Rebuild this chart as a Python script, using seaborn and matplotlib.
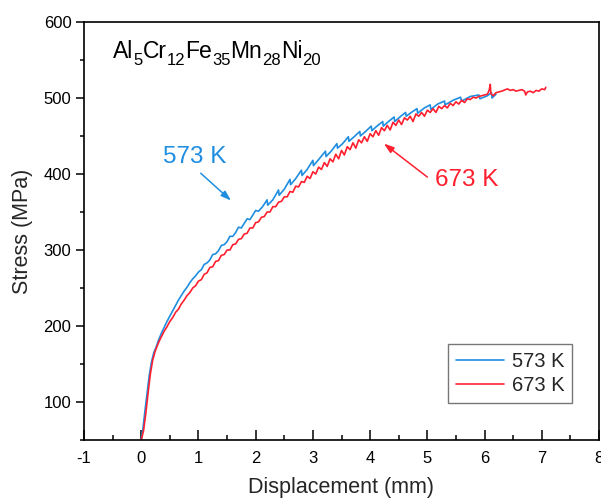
import numpy as np
import pandas as pd
import matplotlib
matplotlib.use("Agg")
import matplotlib.pyplot as plt
from matplotlib.ticker import MultipleLocator
from matplotlib.transforms import IdentityTransform
import seaborn as sns

# ---- data ----
x_573 = [0.00, 0.03, 0.06, 0.10, 0.14, 0.18, 0.22, 0.26, 0.30, 0.35, 0.40, 0.45, 0.50, 0.55,
         0.60, 0.65, 0.70, 0.75, 0.80, 0.85, 0.90, 0.95, 1.00, 1.05, 1.10, 1.15, 1.20, 1.25,
         1.30, 1.35, 1.40, 1.45, 1.50, 1.55, 1.60, 1.65, 1.70, 1.75, 1.80, 1.85, 1.90, 1.95,
         2.00, 2.05, 2.12, 2.20, 2.21, 2.30, 2.40, 2.41, 2.50, 2.60, 2.61, 2.70, 2.80, 2.81,
         2.90, 3.00, 3.01, 3.10, 3.22, 3.23, 3.32, 3.42, 3.43, 3.52, 3.62, 3.63, 3.72, 3.82,
         3.83, 3.92, 4.02, 4.03, 4.12, 4.22, 4.23, 4.32, 4.42, 4.43, 4.52, 4.62, 4.63, 4.72,
         4.82, 4.83, 4.95, 5.05, 5.06, 5.18, 5.30, 5.31, 5.45, 5.58, 5.60, 5.75, 5.90, 5.92,
         6.05, 6.12, 6.13, 6.20]
y_573 = [50, 65, 85, 110, 135, 153, 165, 172, 181, 190, 198, 206, 213, 220,
         227, 234, 240, 246, 251, 257, 262, 266, 271, 274, 281, 283, 287, 294,
         295, 299, 306, 307, 311, 318, 318, 323, 330, 329, 335, 341, 340, 346,
         352, 351, 357, 366, 359, 366, 379, 372, 380, 393, 386, 394, 405, 398,
         406, 418, 411, 419, 430, 423, 430, 440, 434, 440, 449, 443, 449, 456,
         450, 456, 463, 457, 463, 469, 463, 469, 475, 469, 475, 481, 476, 481,
         486, 480, 487, 491, 485, 492, 496, 491, 497, 501, 496, 502, 504, 499,
         503, 507, 500, 505]

x_673 = [0.00, 0.04, 0.08, 0.12, 0.16, 0.20, 0.24, 0.28, 0.32, 0.36, 0.40, 0.45, 0.50, 0.55,
         0.60, 0.65, 0.70, 0.75, 0.80, 0.85, 0.90, 0.95, 1.00, 1.05, 1.10, 1.15, 1.20, 1.25,
         1.30, 1.35, 1.40, 1.45, 1.50, 1.55, 1.60, 1.65, 1.70, 1.75, 1.80, 1.85, 1.90, 1.95,
         2.00, 2.05, 2.10, 2.15, 2.20, 2.25, 2.30, 2.35, 2.40, 2.45, 2.50, 2.55, 2.60, 2.65,
         2.70, 2.75, 2.80, 2.85, 2.90, 2.95, 3.00, 3.05, 3.10, 3.15, 3.20, 3.25, 3.30, 3.35,
         3.40, 3.45, 3.50, 3.55, 3.60, 3.65, 3.70, 3.75, 3.80, 3.85, 3.90, 3.95, 4.00, 4.05,
         4.10, 4.15, 4.20, 4.25, 4.30, 4.35, 4.40, 4.45, 4.50, 4.55, 4.60, 4.65, 4.70, 4.75,
         4.80, 4.85, 4.90, 4.95, 5.00, 5.05, 5.10, 5.15, 5.20, 5.25, 5.30, 5.35, 5.40, 5.45,
         5.50, 5.55, 5.60, 5.65, 5.70, 5.75, 5.80, 5.85, 5.90, 5.95, 6.00, 6.05, 6.08, 6.10,
         6.11, 6.15, 6.20, 6.30, 6.40, 6.45, 6.50, 6.55, 6.60, 6.65, 6.70, 6.72, 6.75, 6.80,
         6.85, 6.90, 6.95, 7.00, 7.05, 7.07]
y_673 = [50, 62, 85, 112, 137, 155, 166, 174, 181, 187, 193, 199, 206, 211,
         218, 222, 229, 234, 240, 244, 250, 253, 259, 261, 268, 270, 277, 278,
         285, 286, 293, 294, 300, 300, 307, 308, 314, 315, 321, 322, 329, 329,
         336, 337, 343, 344, 350, 350, 357, 357, 363, 364, 370, 370, 377, 376,
         384, 383, 390, 389, 397, 394, 403, 400, 409, 406, 415, 410, 420, 416,
         426, 420, 431, 425, 436, 432, 441, 434, 445, 441, 449, 443, 453, 449,
         457, 451, 461, 457, 464, 458, 468, 464, 471, 465, 474, 471, 476, 469,
         479, 476, 481, 476, 484, 481, 486, 481, 489, 486, 490, 487, 493, 490,
         495, 492, 497, 494, 499, 498, 501, 500, 502, 503, 504, 505, 510, 518,
         506, 503, 507, 509, 512, 510, 511, 509, 510, 511, 509, 504, 508, 509,
         507, 510, 509, 512, 511, 514]

series = ["573 K", "673 K"]
colors = ["#1f8ee0", "#ff1f2f"]
title_elements = ["Al", "Cr", "Fe", "Mn", "Ni"]
title_subs = ["5", "12", "35", "28", "20"]

df = pd.concat([
    pd.DataFrame({"x": x_573, "y": y_573, "T": series[0]}),
    pd.DataFrame({"x": x_673, "y": y_673, "T": series[1]}),
])

sns.set_style("ticks")
plt.rcParams["font.family"] = ["Liberation Sans", "DejaVu Sans"]
plt.rcParams["axes.unicode_minus"] = False

fig = plt.figure(figsize=(6.01, 4.98), dpi=100)
ax = fig.add_axes([84 / 601, 1 - 440 / 498, (599 - 84) / 601, (440 - 22) / 498])

sns.lineplot(data=df, x="x", y="y", hue="T", palette=dict(zip(series, colors)),
             sort=False, estimator=None, units="T", linewidth=1.2, ax=ax)

ax.set_xlim(-1, 8)
ax.set_ylim(50, 600)
ax.xaxis.set_major_locator(MultipleLocator(1))
ax.xaxis.set_minor_locator(MultipleLocator(0.5))
ax.yaxis.set_major_locator(MultipleLocator(100))
ax.yaxis.set_minor_locator(MultipleLocator(50))
ax.tick_params(axis="x", which="both", direction="in", labelsize=12, pad=8, colors="black")
ax.tick_params(axis="x", which="major", length=7, width=1.1)
ax.tick_params(axis="x", which="minor", length=3.5, width=1.1)
ax.tick_params(axis="y", which="both", direction="out", labelsize=12, pad=3, colors="black")
ax.tick_params(axis="y", which="major", length=6, width=1.1)
ax.tick_params(axis="y", which="minor", length=3, width=1.1)
for s in ax.spines.values():
    s.set_visible(True)
    s.set_linewidth(1.2)
    s.set_color("black")

ax.set_xlabel("Displacement (mm)", fontsize=15.5, labelpad=8)
ax.set_ylabel("Stress (MPa)", fontsize=15.5, labelpad=8)

ax.text(0.385, 414, "573 K", fontsize=17.5, color=colors[0], ha="left", va="baseline")
ax.annotate("", xy=(1.57, 365), xytext=(1.04, 401),
            arrowprops=dict(arrowstyle="-|>,head_length=0.6,head_width=0.2",
                            color=colors[0], lw=1.1, shrinkA=0, shrinkB=0))
ax.text(5.14, 384, "673 K", fontsize=17.5, color=colors[1], ha="left", va="baseline")
ax.annotate("", xy=(4.24, 440), xytext=(5.0, 396),
            arrowprops=dict(arrowstyle="-|>,head_length=0.6,head_width=0.2",
                            color=colors[1], lw=1.1, shrinkA=0, shrinkB=0))

leg = ax.legend(loc="lower right", bbox_to_anchor=(0.948, 0.088), borderaxespad=0,
                fontsize=14.5, frameon=True, fancybox=False, edgecolor="#555555",
                handlelength=2.4, handletextpad=0.35, borderpad=0.4, labelspacing=0.25,
                title=None)
leg.get_frame().set_linewidth(1.0)

# composition label with subscripts, laid out piece by piece (pixel coords)
fig.canvas.draw()
renderer = fig.canvas.get_renderer()
H = 498
cx = 113.0
base_y = H - 57.5
for el, sub in zip(title_elements, title_subs):
    t = fig.text(cx, base_y, el, fontsize=16.5, color="black", ha="left", va="baseline",
                 transform=IdentityTransform())
    cx += t.get_window_extent(renderer).width
    t2 = fig.text(cx, base_y - 7.5, sub, fontsize=12, color="black", ha="left",
                  va="baseline", transform=IdentityTransform())
    cx += t2.get_window_extent(renderer).width

fig.savefig("out.png", dpi=100)
